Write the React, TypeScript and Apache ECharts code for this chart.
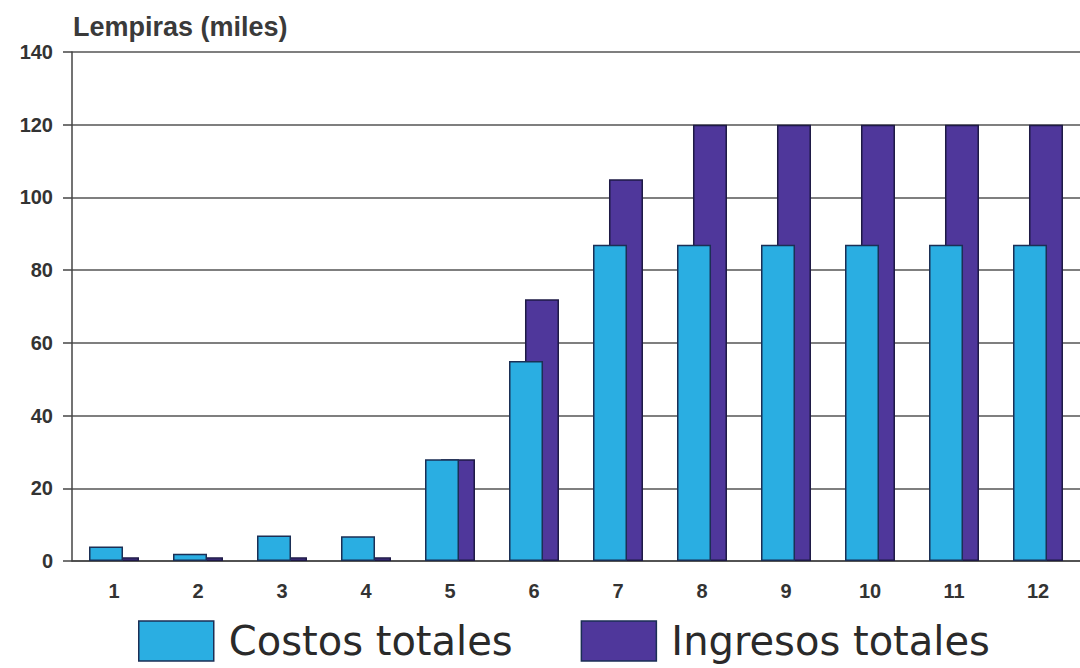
import React, { useEffect, useRef } from "react";
import * as echarts from "echarts";

const categories = ["1", "2", "3", "4", "5", "6", "7", "8", "9", "10", "11", "12"];
const costosTotales = [4, 2, 7, 6.8, 28, 55, 87, 87, 87, 87, 87, 87];
const ingresosTotales = [1, 1, 1, 1, 28, 72, 105, 120, 120, 120, 120, 120];
const seriesNames = ["Costos totales", "Ingresos totales"];
const yTitle = "Lempiras (miles)";

export default function App() {
  const ref = useRef<HTMLDivElement>(null);
  useEffect(() => {
    if (!ref.current) return;
    const chart = echarts.init(ref.current, undefined, { renderer: "svg" });
    const font = "Liberation Sans, Arial, sans-serif";
    chart.setOption({
      animation: false,
      backgroundColor: "#ffffff",
      grid: { left: 72, top: 52, width: 1013, height: 509, containLabel: false },
      title: {
        text: yTitle,
        left: 68,
        top: 8,
        textStyle: { fontFamily: font, fontSize: 27, fontWeight: "bold", color: "#3a3a3a" },
      },
      legend: {
        top: 618,
        left: 138,
        padding: 0,
        itemWidth: 75,
        itemHeight: 40,
        itemGap: 68,
        icon: "rect",
        itemStyle: { borderColor: "#1b2f55", borderWidth: 1.5 },
        textStyle: {
          fontFamily: "DejaVu Sans, sans-serif",
          fontSize: 40,
          lineHeight: 46,
          color: "#2a2a2a",
          padding: [0, 0, 0, 10],
        },
        data: seriesNames,
      },
      xAxis: {
        type: "category",
        data: categories,
        axisLine: { lineStyle: { color: "#444", width: 1.5 } },
        axisTick: { alignWithLabel: true, length: 8, lineStyle: { color: "#444", width: 1.5 } },
        axisLabel: { fontFamily: font, fontSize: 20, fontWeight: "bold", color: "#333", margin: 20 },
      },
      yAxis: {
        type: "value",
        min: 0,
        max: 140,
        interval: 20,
        axisLine: { show: true, lineStyle: { color: "#444", width: 1.5 } },
        axisTick: { show: true, inside: false, length: 9, lineStyle: { color: "#444", width: 1.5 } },
        axisLabel: { fontFamily: font, fontSize: 20, fontWeight: "bold", color: "#333", margin: 19 },
        splitLine: { show: true, lineStyle: { color: "#555", width: 1.5 } },
      },
      series: [
        {
          name: seriesNames[0],
          type: "bar",
          data: costosTotales,
          barWidth: 34,
          barGap: "-53%",
          z: 3,
          itemStyle: { color: "#2aaee2", borderColor: "#1b2f55", borderWidth: 1.5 },
        },
        {
          name: seriesNames[1],
          type: "bar",
          data: ingresosTotales,
          barWidth: 34,
          z: 2,
          itemStyle: { color: "#4f379b", borderColor: "#1e1a45", borderWidth: 1.5 },
        },
      ],
    });
    return () => chart.dispose();
  }, []);
  return <div ref={ref} style={{ width: 1080, height: 668, position: "absolute", left: 0, top: 0 }} />;
}
